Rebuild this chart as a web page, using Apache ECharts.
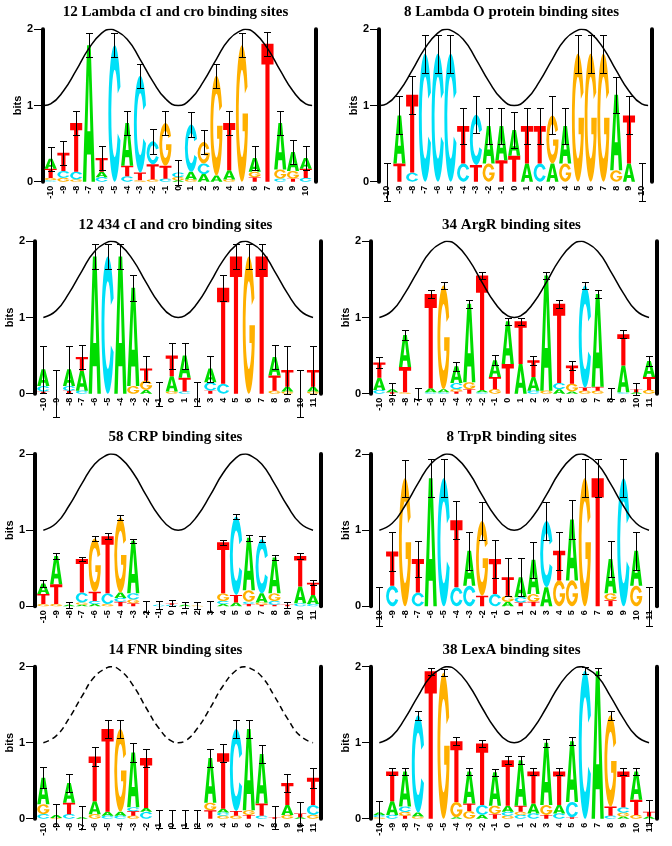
<!DOCTYPE html>
<html><head><meta charset="utf-8">
<script src="https://cdn.jsdelivr.net/npm/echarts@6/dist/echarts.min.js"></script>
<style>html,body{margin:0;padding:0;background:#fff}#c{width:672px;height:846px}</style>
</head><body><div id="c"></div>
<script>
// ---------- tick labels / positions ----------
const positions21 = [-10,-9,-8,-7,-6,-5,-4,-3,-2,-1,0,1,2,3,4,5,6,7,8,9,10];
const positions22 = [-10,-9,-8,-7,-6,-5,-4,-3,-2,-1,0,1,2,3,4,5,6,7,8,9,10,11];
const yTicks = [0, 1, 2];

// ---------- titles ----------
const titles = [
  '12 Lambda cI and cro binding sites',
  '8 Lambda O protein binding sites',
  '12 434 cI and cro binding sites',
  '34 ArgR binding sites',
  '58 CRP binding sites',
  '8 TrpR binding sites',
  '14 FNR binding sites',
  '38 LexA binding sites'
];

// ---------- helix wave: [position, bits] ----------
const wave21 = [[-10.5,1.00],[-10,1.02],[-9,1.19],[-8,1.46],[-7,1.75],[-6,1.95],[-5.25,2.00],[-5,1.99],[-4,1.87],[-3,1.61],[-2,1.32],[-1,1.09],[0,1.00],
                [1,1.09],[2,1.32],[3,1.61],[4,1.87],[5,1.99],[5.25,2.00],[6,1.95],[7,1.75],[8,1.46],[9,1.19],[10,1.02],[10.5,1.00]];
const wave22 = [[-10,1.00],[-9,1.09],[-8,1.32],[-7,1.61],[-6,1.87],[-5,1.99],[-4.75,2.00],[-4,1.95],[-3,1.75],[-2,1.46],[-1,1.19],[0,1.02],[0.5,1.00],
                [1,1.02],[2,1.19],[3,1.46],[4,1.75],[5,1.95],[5.75,2.00],[6,1.99],[7,1.87],[8,1.61],[9,1.32],[10,1.09],[11,1.00]];

// ---------- letter stacks (bottom -> top, bits) ----------
const lambdaCroLetters = ["C.02 G.03 T.12 A.13","G.05 C.09 T.24","G.03 C.10 T.64","A1.79","C.06 A.07 T.18","C1.79","C.07 T.14 A.56","G.02 T.10 C1.27","G.03 T.20 C.30","C.04 T.17 G.56","A.02 G.04 C.06","G.03 A.10 C.62","A.10 C.14 G.28","A.08 G1.31","G.03 A.12 T.62","G1.79","T.06 G.07 A.18","T1.81","C.04 G.12 A.61","T.04 G.10 A.25","C.05 T.12 A.14"];
const lambdaCroErrors = [0.16,0.16,0.16,0.16,0.16,0.16,0.16,0.16,0.16,0.16,0.16,0.16,0.16,0.16,0.16,0.16,0.16,0.16,0.16,0.16,0.16];

const lambdaOLetters = ["","T.24 A.63","C.12 T1.02","C1.68","C1.68","C1.68","C.24 T.49","T.22 C.66","G.24 A.49","T.28 A.45","T.34 A.34","A.24 T.49","C.24 T.49","A.24 G.63","G.24 A.49","G1.68","G1.68","G1.68","G.15 A.99","A.24 T.63",""];
const lambdaOErrors = [0.25,0.25,0.25,0.25,0.25,0.25,0.24,0.24,0.24,0.24,0.24,0.24,0.24,0.25,0.24,0.25,0.25,0.25,0.24,0.25,0.25];

const cro434Letters = ["T.03 C.07 A.22","","T.04 C.06 A.22","C.04 A.26 T.18","A1.80","C1.80","A1.80","G.10 A1.29","A.05 G.12 T.16","","G.03 A.20 T.27","C.03 T.18 A.29","","T.04 C.11 A.18","C.13 T1.26","T1.80","G1.80","T1.80","G.04 T.20 A.24","G.03 A.06 T.22","","G.03 A.06 T.22"];
const cro434Errors = [0.31,0.31,0.31,0.16,0.17,0.17,0.17,0.17,0.17,0.16,0.17,0.17,0.16,0.17,0.17,0.17,0.17,0.17,0.16,0.31,0.31,0.31];

const argRLetters = ["C.05 A.16 T.20","T.02 A.04","G.02 T.33 A.42","","C.02 A.05 T1.24","C.02 A.04 G1.36","T.03 G.03 C.08 A.22","T.06 G.09 A1.03","C.02 A.03 T1.50","G.06 T.16 A.22","T.39 A.56","A.39 T.56","C.04 A.18 T.22","G.04 A1.51","A.06 C.08 T1.04","A.03 G.10 T.24","G.04 T.04 C1.34","G.04 T.05 A1.22","","C.02 A.35 T.41","A.02 T.04","G.05 T.17 A.21"];
const argRErrors = [0.07,0.08,0.06,0.07,0.05,0.045,0.06,0.05,0.05,0.065,0.045,0.045,0.06,0.05,0.05,0.06,0.05,0.055,0.07,0.05,0.08,0.07];

const crpLetters = ["G.03 T.13 A.14","G.03 T.26 A.37","A.02","A.02 G.03 C.13 T.44","A.03 C.04 T.12 G.70","G.03 C.14 T.75","T.06 C.05 A.07 G.99","T.04 G.05 C.08 A.69","","C.02","C.02 T.02","A.02","G.01","","A.03 C.04 G.10 T.67","A.05 T.10 C1.03","T.03 C.03 G.15 A.69","T.02 G.03 A.12 C.71","T.02 C.05 G.10 A.47","T.02","C.04 A.22 T.40","C.03 A.12 T.16"];
const crpErrors = [0.05,0.04,0.04,0.03,0.035,0.04,0.035,0.03,0.07,0.05,0.04,0.04,0.05,0.07,0.03,0.03,0.04,0.04,0.03,0.04,0.035,0.03];

const trpRLetters = ["","C.27 T.45","G1.68","C.18 T.44","A1.68","C1.68","C.25 T.88","C.27 A.46","T.14 G.98","C.16 T.46","A.06 G.08 T.24","T.05 C.07 A.26","T.06 G.10 A.45","A.25 C.87","G.34 T.39","G.34 A.80","G1.68","T1.68","T.08 G.09 A.45","C1.68","G.27 A.46",""];
const trpRErrors = [0.26,0.25,0.24,0.24,0.25,0.25,0.25,0.25,0.25,0.25,0.25,0.25,0.24,0.25,0.25,0.25,0.25,0.25,0.24,0.25,0.25,0.26];

const fnrLetters = ["C.06 G.13 A.35","G.01 A.04","C.06 T.15 A.26","A.02","G.06 A.17 T.59","C.04 A.05 T1.09","C.04 A.05 G1.09","G.04 T.06 C.05 A.72","C.09 A.05 T.66","","","","","T.11 G.10 A.59","G.04 C.04 A.05 T.73","G.04 T.06 C1.08","T.05 G.06 A1.07","C.04 T.16 A.65","T.02","G.05 A.13 T.29","A.02 T.05","G.05 C.13 T.36"];
const fnrErrors = [0.14,0.15,0.12,0.15,0.12,0.12,0.12,0.12,0.12,0.12,0.12,0.12,0.12,0.12,0.12,0.12,0.12,0.12,0.15,0.12,0.15,0.13];

const lexALetters = ["G.02 C.03 A.03","C.05 A.18 T.39","T.04 G.05 C.07 A.46","G.03 A.05 C1.28","T1.94","G1.92","A.02 G.20 T.80","G.10 T.10 A.42","A.05 C.13 T.81","T.06 G.11 A.44","G.04 C.05 A.08 T.60","C.05 G.04 T.08 A.60","C.07 A.13 T.42","T.05 G.13 A.82","C.07 A.11 T.44","T.02 C.20 A.80","C1.95","A1.94","C.04 T.12 G1.20","A.03 G.05 C.07 T.47","G.05 T.20 A.37","A.03 T.06"];
const lexAErrors = [0.15,0.045,0.045,0.06,0.045,0.045,0.05,0.045,0.05,0.045,0.05,0.05,0.045,0.05,0.045,0.05,0.045,0.045,0.06,0.045,0.045,0.15];

// ---------- styling ----------
const LETTERS = ['A','C','G','T'];
const COLORS = ['#00dd00', '#00e0f8', '#ffb000', '#ff0000'];
const GLYPHS = [
  'M0,100 L35,0 L65,0 L100,100 L72,100 L66,80 L34,80 L28,100 Z M38,63 L62,63 L50,22 Z',
  'M96,30.4 A50,50 0 1 0 96,69.6 L74,64.7 A27,32 0 1 1 74,35.3 Z',
  'M96,30.4 A50,50 0 1 0 100,50 L55,50 L55,63 L73,63 L73,66.7 A27,32 0 1 1 74,35.3 Z',
  'M0,0 L100,0 L100,15 L67,15 L67,100 L33,100 L33,15 L0,15 Z'
];
const LETTER_W = 0.95;

const panels = [
  {title: titles[0], letters: lambdaCroLetters, errors: lambdaCroErrors, positions: positions21, wave: wave21, col: 0, row: 0, dashed: false},
  {title: titles[1], letters: lambdaOLetters, errors: lambdaOErrors, positions: positions21, wave: wave21, col: 1, row: 0, dashed: false},
  {title: titles[2], letters: cro434Letters, errors: cro434Errors, positions: positions22, wave: wave22, col: 0, row: 1, dashed: false},
  {title: titles[3], letters: argRLetters, errors: argRErrors, positions: positions22, wave: wave22, col: 1, row: 1, dashed: false},
  {title: titles[4], letters: crpLetters, errors: crpErrors, positions: positions22, wave: wave22, col: 0, row: 2, dashed: false},
  {title: titles[5], letters: trpRLetters, errors: trpRErrors, positions: positions22, wave: wave22, col: 1, row: 2, dashed: false},
  {title: titles[6], letters: fnrLetters, errors: fnrErrors, positions: positions22, wave: wave22, col: 0, row: 3, dashed: true},
  {title: titles[7], letters: lexALetters, errors: lexAErrors, positions: positions22, wave: wave22, col: 1, row: 3, dashed: false}
];

// layout
const colX = [0, 336];
const rowTop = [29.3, 241.3, 454, 666.7];
const rowBottom = [181.7, 393.7, 606.3, 818.7];
const titleY = [13.3, 226, 438.5, 651];
const frame21 = {left: 43, right: 315.3, xmin: -10.6, xmax: 10.75, nameGap: 19};
const frame22 = {left: 35, right: 321, xmin: -10.65, xmax: 11.62, nameGap: 17};

function parseStack(s) {
  const out = [];
  const re = /([ACGT])(\d*\.?\d+)/g;
  let m;
  while ((m = re.exec(s)) !== null) out.push([m[1], parseFloat(m[2])]);
  return out;
}

function letterRender(params, api) {
  const pos = api.value(0), y0 = api.value(1), y1 = api.value(2), li = api.value(3);
  const tl = api.coord([pos - LETTER_W / 2, y1]);
  const br = api.coord([pos + LETTER_W / 2, y0]);
  const h = br[1] - tl[1];
  if (h < 0.4) return;
  return {
    type: 'path',
    shape: {pathData: GLYPHS[li], x: tl[0], y: tl[1], width: br[0] - tl[0], height: h, layout: 'cover'},
    style: {fill: COLORS[li]}
  };
}

function errRender(params, api) {
  const pos = api.value(0), c = api.value(1), e = api.value(2);
  const t = api.coord([pos, c + e]), b = api.coord([pos, c - e]);
  const x = Math.round(t[0]) + 0.5, yt = Math.round(t[1]) + 0.5, yb = Math.round(b[1]) + 0.5;
  const st = () => ({stroke: '#000', lineWidth: 1});
  return {type: 'group', children: [
    {type: 'line', shape: {x1: x, y1: yt, x2: x, y2: yb}, style: st()},
    {type: 'line', shape: {x1: x - 3.5, y1: yt, x2: x + 3.5, y2: yt}, style: st()},
    {type: 'line', shape: {x1: x - 3.5, y1: yb, x2: x + 3.5, y2: yb}, style: st()}
  ]};
}

const option = {animation: false, backgroundColor: '#fff', title: [], grid: [], xAxis: [], yAxis: [], series: []};
const sans = 'Liberation Sans, Arial, sans-serif';

panels.forEach((p, i) => {
  const f = p.positions.length === 21 ? frame21 : frame22;
  const left = f.left + colX[p.col];
  const width = f.right - f.left;
  const top = rowTop[p.row];
  const height = rowBottom[p.row] - top;
  option.title.push({
    text: p.title, left: 175.5 + colX[p.col], top: titleY[p.row] - 8.5, textAlign: 'center', padding: 0,
    textStyle: {fontFamily: 'Liberation Serif, Times New Roman, serif', fontWeight: 'bold', fontSize: 15, color: '#000'}
  });
  option.grid.push({left: left, top: top, width: width, height: height});
  option.xAxis.push({
    gridIndex: i, type: 'value', min: f.xmin, max: f.xmax,
    axisLine: {show: false, onZero: false}, axisTick: {show: false}, splitLine: {show: false},
    axisLabel: {customValues: p.positions, rotate: 90, margin: 4, fontSize: 9, fontWeight: 'bold', fontFamily: sans, color: '#000',
      formatter: v => String(v)}
  });
  option.yAxis.push({
    gridIndex: i, type: 'value', min: 0, max: 2, interval: 1, position: 'left',
    axisLine: {show: true, onZero: false, lineStyle: {color: '#000', width: 4}},
    axisTick: {show: true, length: 9, lineStyle: {color: '#000', width: 1}, customValues: yTicks},
    axisLabel: {margin: 10, fontSize: 11, fontWeight: 'bold', fontFamily: sans, color: '#000', customValues: yTicks},
    splitLine: {show: false},
    name: 'bits', nameLocation: 'middle', nameRotate: 90, nameGap: f.nameGap,
    nameTextStyle: {fontSize: 11, fontWeight: 'bold', fontFamily: sans, color: '#000'}
  });
  option.yAxis.push({
    gridIndex: i, type: 'value', min: 0, max: 2, position: 'right',
    axisLine: {show: true, onZero: false, lineStyle: {color: '#000', width: 4}},
    axisTick: {show: false}, axisLabel: {show: false}, splitLine: {show: false}
  });

  const letterData = [], errData = [];
  p.positions.forEach((pos, k) => {
    let y = 0;
    parseStack(p.letters[k]).forEach(([l, h]) => {
      letterData.push([pos, y, y + h, LETTERS.indexOf(l)]);
      y += h;
    });
    errData.push([pos, y, p.errors[k]]);
  });

  option.series.push({
    type: 'custom', xAxisIndex: i, yAxisIndex: 2 * i, renderItem: letterRender, data: letterData, z: 2, silent: true
  });
  option.series.push({
    type: 'line', xAxisIndex: i, yAxisIndex: 2 * i, data: p.wave, smooth: true, symbol: 'none', z: 3, silent: true,
    lineStyle: {color: '#000', width: 1.5, type: p.dashed ? [6, 4] : 'solid'}
  });
  option.series.push({
    type: 'custom', xAxisIndex: i, yAxisIndex: 2 * i, renderItem: errRender, data: errData, z: 4, silent: true
  });
});

const chart = echarts.init(document.getElementById('c'), null, {renderer: 'canvas'});
chart.setOption(option);
</script>
</body></html>
